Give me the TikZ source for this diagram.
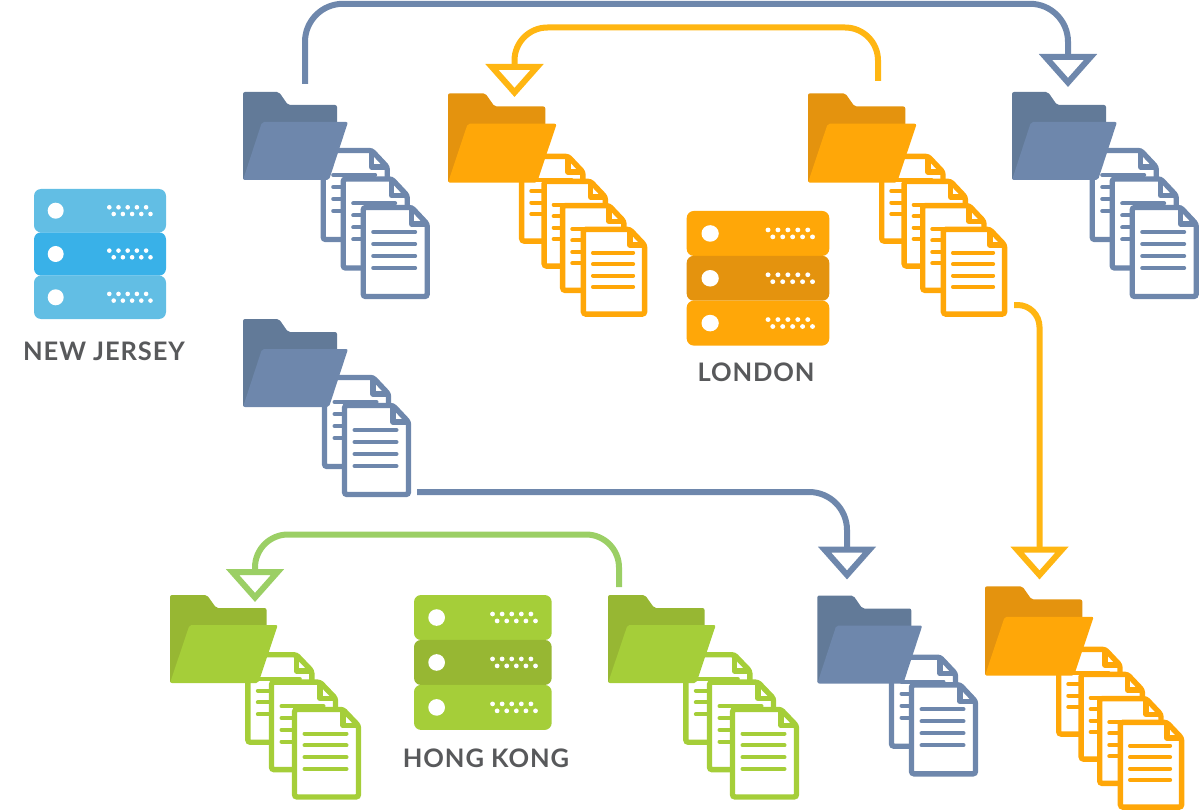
\documentclass[tikz,border=0pt]{standalone}
\usepackage{fontspec}
\setmainfont{Lato}
\usepackage{tikz}
\usetikzlibrary{arrows.meta}
\definecolor{blueback}{HTML}{627A98}
\definecolor{bluefront}{HTML}{6E87AC}
\definecolor{orangeback}{HTML}{E4930E}
\definecolor{orangefront}{HTML}{FFA708}
\definecolor{greenback}{HTML}{97B733}
\definecolor{greenfront}{HTML}{A5CE39}
\definecolor{skyback}{HTML}{39B1E8}
\definecolor{skyfront}{HTML}{62BEE4}
\definecolor{orangeline}{HTML}{FFB612}
\definecolor{greenline}{HTML}{9BCF65}
\definecolor{labelgrey}{HTML}{58595B}
\tikzstyle{link}=[line width=6pt, line join=miter, -{Triangle[open, fill=white, length=33pt, width=57pt, line width=6pt]}]
\tikzstyle{citylabel}=[text=labelgrey, font=\fontsize{25.5}{26}\selectfont\bfseries\addfontfeatures{LetterSpace=3.5}, inner sep=0pt]
\tikzset{
    pics/folder/.style={code={
        \fill[#1back, rounded corners=2pt] (0,0) -- (36,0) -- (45,13) -- (94,13) -- (94,60) -- (0,88) -- cycle;
        \fill[#1front, rounded corners=2pt] (19,30) -- (105,30) -- (86,88) -- (0,88) -- cycle;
    }},
    pics/sheet/.style={code={
        \draw[#1front, fill=white, line width=5.4pt, rounded corners=2.5pt] (2.5,2.5) -- (51,2.5) -- (66.5,19) -- (66.5,91.5) -- (2.5,91.5) -- cycle;
        \draw[#1front, line width=5.4pt, line join=round] (51,2.5) -- (51,19) -- (66.5,19);
        \foreach \ly in {27,39,51,63} {
            \draw[#1front, line width=4pt, line cap=round] (12.5,\ly) -- (54.5,\ly);
        }
    }},
    pics/server/.style={code={
        \foreach \ry/\rc in {0/front, 43.3/back, 86.6/front} {
            \fill[#1\rc, rounded corners=7pt] (0,\ry) rectangle +(132,43.4);
            \fill[white] (21.7,\ry+21.7) circle (8);
            \foreach \dx in {0,...,4} {
                \fill[white] (75.3+9.2*\dx,\ry+18.3) circle (2.3);
                \fill[white] (79.7+9.2*\dx,\ry+25) circle (2.3);
            }
        }
    }}
}
\begin{document}
\begin{tikzpicture}[x=1pt, y=-1pt]
    \useasboundingbox (0,0) rectangle (1199,810);
    \foreach \px/\py in {320.7/148, 340.7/176.5, 360.7/205} {\pic at (\px,\py) {sheet=blue};}
    \pic (foldertl) at (243,92) {folder=blue};
    \foreach \px/\py in {1089.7/148, 1109.7/176.5, 1129.7/205} {\pic at (\px,\py) {sheet=blue};}
    \pic (foldertr) at (1012,92) {folder=blue};
    \foreach \px/\py in {322/375, 342/403} {\pic at (\px,\py) {sheet=blue};}
    \pic (folderml) at (243,319) {folder=blue};
    \foreach \px/\py in {889/654.7, 909/682.3} {\pic at (\px,\py) {sheet=blue};}
    \pic (folderbm) at (817.3,595.5) {folder=blue};
    \foreach \px/\py in {519.3/154, 541.7/179, 560.3/203.3, 581/227} {\pic[xscale=0.957, yscale=0.952] at (\px,\py) {sheet=orange};}
    \pic[xscale=1.035, yscale=1.015] (foldero) at (448,93.3) {folder=orange};
    \foreach \px/\py in {879.3/154, 901.7/179, 920.3/203.3, 941/227} {\pic[xscale=0.957, yscale=0.952] at (\px,\py) {sheet=orange};}
    \pic[xscale=1.035, yscale=1.015] (folderp) at (808,93.3) {folder=orange};
    \foreach \px/\py in {1056.3/647, 1078.7/672, 1097.3/696.3, 1118/720} {\pic[xscale=0.957, yscale=0.952] at (\px,\py) {sheet=orange};}
    \pic[xscale=1.035, yscale=1.015] (folderq) at (985,586.3) {folder=orange};
    \foreach \px/\py in {245.3/652.3, 269/679.7, 292/707} {\pic[yscale=0.983] at (\px,\py) {sheet=green};}
    \pic[xscale=1.027, yscale=1.0] (folderg) at (170,595) {folder=green};
    \foreach \px/\py in {683.3/652.3, 707/679.7, 730/707} {\pic[yscale=0.983] at (\px,\py) {sheet=green};}
    \pic[xscale=1.027, yscale=1.0] (folderh) at (608,595) {folder=green};
    \pic (serverny) at (34,189) {server=sky};
    \pic[xscale=1.08, yscale=1.035] (serverln) at (686.7,211) {server=orange};
    \pic[xscale=1.043, yscale=1.038] (serverhk) at (414,595) {server=green};
    \node[citylabel] (labelny) at (104,351) {NEW JERSEY};
    \node[citylabel] (labelln) at (756,372.5) {LONDON};
    \node[citylabel] (labelhk) at (486,758) {HONG KONG};
    \coordinate (topstart) at (305,84);
    \coordinate (topend) at (1068,87);
    \coordinate (orstart) at (878,81);
    \coordinate (orend) at (514.5,97);
    \coordinate (sidestart) at (1014,305);
    \coordinate (sideend) at (1039.5,579.5);
    \coordinate (midstart) at (417,492);
    \coordinate (midend) at (847,579.5);
    \coordinate (grstart) at (619,587);
    \coordinate (grend) at (255,602);
    \draw[link, bluefront, rounded corners=38pt] (topstart) |- (1068,3.8) -- (topend);
    \draw[link, orangeline, rounded corners=33pt] (orstart) |- (514.5,27.5) -- (orend);
    \draw[link, orangeline, rounded corners=22pt] (sidestart) -| (sideend);
    \draw[link, bluefront, rounded corners=38pt] (midstart) -| (midend);
    \draw[link, greenline, rounded corners=33pt] (grstart) |- (255,534.5) -- (grend);
\end{tikzpicture}
\end{document}
